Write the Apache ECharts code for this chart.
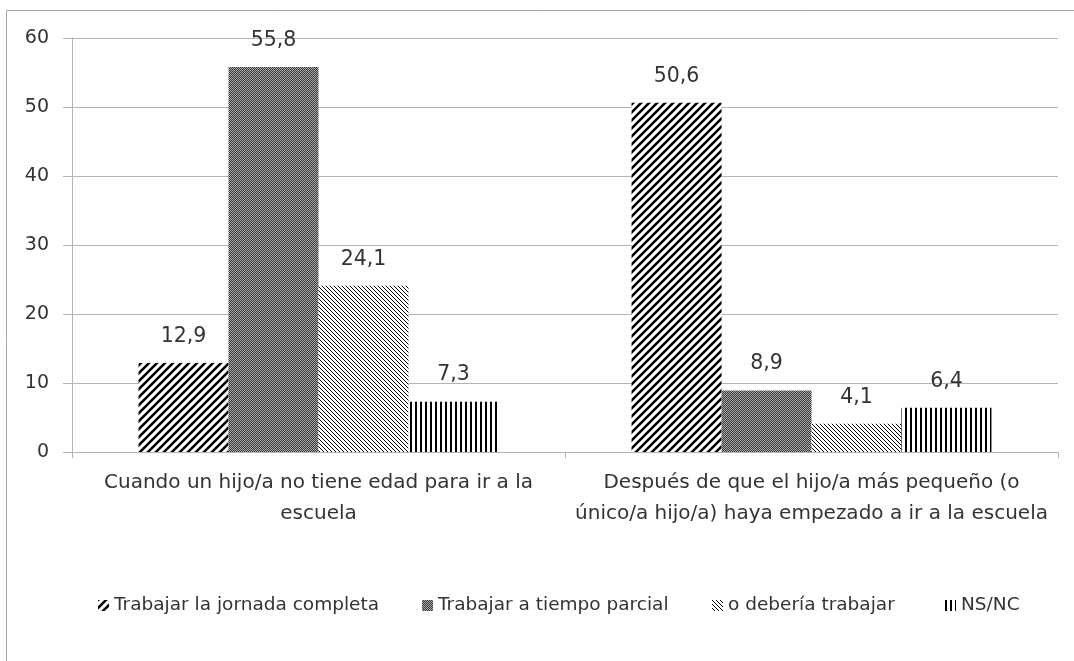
<!DOCTYPE html>
<html>
<head>
<meta charset="utf-8">
<script src="https://cdn.jsdelivr.net/npm/echarts@6/dist/echarts.min.js"></script>
<style>
  html, body { margin: 0; padding: 0; background: #fff; }
  #chart { width: 1074px; height: 661px; }
</style>
</head>
<body>
<div id="chart"></div>
<script>
// Categories (two moments in a child's life) and the answer series
const categories = [
  'Cuando un hijo/a no tiene edad para ir a la\nescuela',
  'Después de que el hijo/a más pequeño (o\núnico/a hijo/a) haya empezado a ir a la escuela'
];
const seriesNames = [
  'Trabajar la jornada completa',
  'Trabajar a tiempo parcial',
  'o debería trabajar',
  'NS/NC'
];
const jornadaCompleta = [12.9, 50.6];
const tiempoParcial = [55.8, 8.9];
const noDeberiaTrabajar = [24.1, 4.1];
const nsnc = [7.3, 6.4];
const yTicks = { min: 0, max: 60, interval: 10 };

// Hatch fills drawn on small tiles and repeated
function tile(w, h, draw) {
  const c = document.createElement('canvas');
  c.width = w; c.height = h;
  const ctx = c.getContext('2d');
  ctx.fillStyle = '#fff';
  ctx.fillRect(0, 0, w, h);
  draw(ctx, w, h);
  return { image: c, repeat: 'repeat' };
}
const wideForward = tile(8, 8, (ctx, w, h) => {
  ctx.strokeStyle = '#000';
  ctx.lineWidth = 2.6;
  ctx.beginPath();
  ctx.moveTo(-2, h + 2); ctx.lineTo(w + 2, -2);
  ctx.moveTo(-2, 2); ctx.lineTo(2, -2);
  ctx.moveTo(w - 2, h + 2); ctx.lineTo(w + 2, h - 2);
  ctx.stroke();
});
const denseDots = tile(2, 2, (ctx) => {
  ctx.fillStyle = '#3a3a3a';
  ctx.fillRect(0, 0, 2, 2);
  ctx.fillStyle = '#a8a8a8';
  ctx.fillRect(0, 0, 1, 1);
  ctx.fillRect(1, 1, 1, 1);
});
const thinBack = tile(4, 4, (ctx, w, h) => {
  ctx.strokeStyle = '#000';
  ctx.lineWidth = 1;
  ctx.beginPath();
  ctx.moveTo(-1, -1); ctx.lineTo(w + 1, h + 1);
  ctx.moveTo(w - 1, -1); ctx.lineTo(w + 1, 1);
  ctx.moveTo(-1, h - 1); ctx.lineTo(1, h + 1);
  ctx.stroke();
});
const vertical = tile(5, 4, (ctx) => {
  ctx.fillStyle = '#000';
  ctx.fillRect(0, 0, 2, 4);
});
const fills = [wideForward, denseDots, thinBack, vertical];
const values = [jornadaCompleta, tiempoParcial, noDeberiaTrabajar, nsnc];

const textColor = '#333333';
const lineColor = '#b4b4b4';
const font = 'DejaVu Sans';

const chart = echarts.init(document.getElementById('chart'), null, { renderer: 'canvas' });

const legendLefts = [93, 417, 707, 940];

chart.setOption({
  animation: false,
  backgroundColor: '#fff',
  textStyle: { fontFamily: font },
  graphic: [{
    type: 'rect',
    shape: { x: 6.5, y: 10.5, width: 1200, height: 1000 },
    style: { fill: 'none', stroke: '#a6a6a6', lineWidth: 1 },
    silent: true
  }],
  grid: { left: 72, right: 16, top: 38, bottom: 209 },
  legend: seriesNames.map((n, i) => ({
    data: [n],
    left: legendLefts[i],
    top: 591,
    itemWidth: 11,
    itemHeight: 11,
    itemGap: 0,
    icon: 'rect',
    textStyle: { color: textColor, fontSize: 18.5, fontFamily: font }
  })),
  xAxis: {
    type: 'category',
    data: categories,
    axisLine: { lineStyle: { color: lineColor } },
    axisTick: { show: true, length: 6, lineStyle: { color: lineColor } },
    axisLabel: {
      color: textColor,
      fontSize: 20,
      lineHeight: 31,
      margin: 15,
      interval: 0,
      fontFamily: font
    }
  },
  yAxis: {
    type: 'value',
    min: yTicks.min,
    max: yTicks.max,
    interval: yTicks.interval,
    axisLine: { show: true, lineStyle: { color: lineColor } },
    axisTick: { show: true, length: 9, lineStyle: { color: lineColor } },
    splitLine: { lineStyle: { color: lineColor } },
    axisLabel: { color: textColor, fontSize: 19, margin: 23, fontFamily: font }
  },
  series: seriesNames.map((n, i) => ({
    name: n,
    type: 'bar',
    data: values[i],
    barGap: '0%',
    barCategoryGap: '27%',
    itemStyle: { color: fills[i] },
    label: {
      show: true,
      position: 'top',
      distance: 16,
      color: textColor,
      fontSize: 20.5,
      fontFamily: font,
      formatter: p => String(p.value).replace('.', ',')
    }
  }))
});
</script>
</body>
</html>
